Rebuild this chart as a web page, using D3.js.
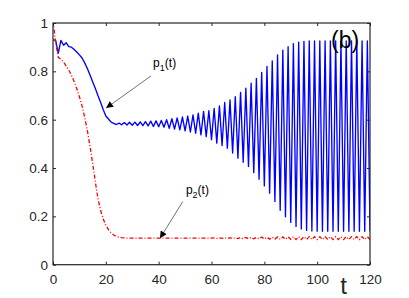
<!DOCTYPE html>
<html>
<head>
<meta charset="utf-8">
<script src="https://cdn.jsdelivr.net/npm/d3@7"></script>
<style>
  body { margin: 0; background: #fff; }
  svg { display: block; }
</style>
</head>
<body>
<div id="chart"></div>
<script>
const p1 = [
  0.930, 0.928, 0.875, 0.928, 0.908, 0.918, 0.902, 0.900, 0.890, 0.880,
  0.868, 0.855, 0.835, 0.812, 0.785, 0.757, 0.730, 0.700, 0.672, 0.642,
  0.615, 0.603, 0.590, 0.585, 0.580, 0.586, 0.579, 0.588, 0.578, 0.589,
  0.577, 0.590, 0.576, 0.591, 0.575, 0.592, 0.574, 0.594, 0.572, 0.595,
  0.571, 0.597, 0.569, 0.600, 0.564, 0.604, 0.561, 0.607, 0.558, 0.611,
  0.554, 0.615, 0.549, 0.620, 0.544, 0.627, 0.537, 0.634, 0.530, 0.637,
  0.517, 0.647, 0.503, 0.657, 0.493, 0.671, 0.482, 0.682, 0.462, 0.695,
  0.441, 0.713, 0.424, 0.730, 0.406, 0.751, 0.381, 0.771, 0.354, 0.795,
  0.326, 0.820, 0.296, 0.843, 0.262, 0.868, 0.225, 0.888, 0.198, 0.902,
  0.175, 0.914, 0.158, 0.921, 0.148, 0.924, 0.142, 0.926, 0.139, 0.926,
  0.138, 0.926, 0.138, 0.926, 0.138, 0.926, 0.138, 0.926, 0.138, 0.926,
  0.138, 0.926, 0.138, 0.926, 0.138, 0.926, 0.138, 0.926, 0.138, 0.926,
  0.138
];
const p2 = [
  1.010, 0.920, 0.858, 0.850, 0.838, 0.822, 0.805, 0.783, 0.758, 0.728,
  0.695, 0.657, 0.610, 0.555, 0.490, 0.420, 0.345, 0.275, 0.225, 0.190,
  0.163, 0.145, 0.132, 0.123, 0.117, 0.114, 0.112, 0.111, 0.110, 0.110,
  0.110, 0.110, 0.110, 0.110, 0.110, 0.110, 0.110, 0.110, 0.110, 0.110,
  0.110, 0.110, 0.110, 0.110, 0.110, 0.110, 0.110, 0.110, 0.110, 0.110,
  0.110, 0.110, 0.110, 0.110, 0.110, 0.110, 0.110, 0.110, 0.110, 0.110,
  0.110, 0.111, 0.109, 0.111, 0.109, 0.112, 0.108, 0.112, 0.108, 0.112,
  0.108, 0.113, 0.107, 0.113, 0.107, 0.113, 0.107, 0.113, 0.107, 0.114,
  0.106, 0.114, 0.106, 0.114, 0.106, 0.115, 0.105, 0.115, 0.105, 0.115,
  0.105, 0.116, 0.104, 0.116, 0.104, 0.116, 0.104, 0.116, 0.104, 0.116,
  0.104, 0.116, 0.104, 0.116, 0.104, 0.116, 0.104, 0.116, 0.104, 0.116,
  0.104, 0.116, 0.104, 0.116, 0.104, 0.116, 0.104, 0.116, 0.104, 0.116,
  0.104
];
const xTicks = [0, 20, 40, 60, 80, 100, 120];
const yTicks = [0, 0.2, 0.4, 0.6, 0.8, 1];

const width = 409, height = 298;
const margin = {top: 23, right: 39, bottom: 33.3, left: 53};
const axisColor = "#262626";
const font = "'Liberation Sans', Arial, Helvetica, sans-serif";

const svg = d3.select("#chart").append("svg")
  .attr("width", width)
  .attr("height", height)
  .style("font-family", font);

const x = d3.scaleLinear().domain([0, 120]).range([margin.left, width - margin.right]);
const y = d3.scaleLinear().domain([0, 1]).range([height - margin.bottom, margin.top]);

svg.append("clipPath")
  .attr("id", "plot")
  .append("rect")
  .attr("x", x(0))
  .attr("y", y(1))
  .attr("width", x(120) - x(0))
  .attr("height", y(0) - y(1));

// Curves
const line = d3.line()
  .x((d, i) => x(i))
  .y(d => y(d));

const curves = svg.append("g").attr("clip-path", "url(#plot)");

curves.append("path")
  .datum(p1)
  .attr("fill", "none")
  .attr("stroke", "#0000ff")
  .attr("stroke-width", 1.35)
  .attr("stroke-linejoin", "round")
  .attr("d", line);

curves.append("path")
  .datum(p2)
  .attr("fill", "none")
  .attr("stroke", "#ff0000")
  .attr("stroke-width", 1.3)
  .attr("stroke-dasharray", "4,2,1,2")
  .attr("d", line);

// Axes (MATLAB style box, ticks inward)
function styleAxis(g) {
  g.select(".domain").remove();
  g.selectAll(".tick line").attr("stroke", axisColor).attr("stroke-width", 1);
  g.selectAll(".tick text").attr("fill", axisColor).style("font-size", "13.5px");
}

svg.append("g")
  .attr("transform", `translate(0,${y(0)})`)
  .call(d3.axisBottom(x).tickValues(xTicks).tickSize(-3).tickPadding(9.5))
  .call(styleAxis)
  .attr("font-family", font);

svg.append("g")
  .attr("transform", `translate(${x(0)},0)`)
  .call(d3.axisLeft(y).tickValues(yTicks).tickSize(-3).tickPadding(5).tickFormat(d => String(d)))
  .call(styleAxis)
  .attr("font-family", font);

svg.append("g")
  .attr("transform", `translate(0,${y(1)})`)
  .call(d3.axisTop(x).tickValues(xTicks).tickSize(-3).tickFormat(""))
  .call(styleAxis);

svg.append("g")
  .attr("transform", `translate(${x(120)},0)`)
  .call(d3.axisRight(y).tickValues(yTicks).tickSize(-3).tickFormat(""))
  .call(styleAxis);

svg.append("rect")
  .attr("x", x(0))
  .attr("y", y(1))
  .attr("width", x(120) - x(0))
  .attr("height", y(0) - y(1))
  .attr("fill", "none")
  .attr("stroke", axisColor)
  .attr("stroke-width", 1.2);

// Axis label
svg.append("text")
  .attr("x", 343.5)
  .attr("y", 294)
  .attr("text-anchor", "middle")
  .attr("fill", axisColor)
  .style("font-size", "24px")
  .text("t");

// Panel tag
svg.append("text")
  .attr("x", 331)
  .attr("y", 48)
  .attr("fill", "#000")
  .style("font-size", "23px")
  .text("(b)");

// Annotations
const defs = svg.append("defs");
defs.append("marker")
  .attr("id", "head")
  .attr("viewBox", "0 0 10 10")
  .attr("refX", 10)
  .attr("refY", 5)
  .attr("markerWidth", 9)
  .attr("markerHeight", 7)
  .attr("markerUnits", "userSpaceOnUse")
  .attr("orient", "auto")
  .append("path")
  .attr("d", "M0,0 L10,5 L0,10 Z")
  .attr("fill", "#000");

function label(g, name, sub) {
  const t = g.append("text")
    .attr("fill", "#000")
    .style("font-size", "12px");
  t.append("tspan").text(name);
  t.append("tspan").attr("dy", 4).style("font-size", "9px").text(sub);
  t.append("tspan").attr("dy", -4).text("(t)");
  return t;
}

const notes = [
  {sub: "1", tx: 37.9, ty: 0.818, from: [37.1, 0.781], to: [20.1, 0.648]},
  {sub: "2", tx: 50.3, ty: 0.2925, from: [49.1, 0.261], to: [40.5, 0.109]}
];

notes.forEach(n => {
  svg.append("line")
    .attr("x1", x(n.from[0]))
    .attr("y1", y(n.from[1]))
    .attr("x2", x(n.to[0]))
    .attr("y2", y(n.to[1]))
    .attr("stroke", "#333")
    .attr("stroke-width", 0.7)
    .attr("marker-end", "url(#head)");
  label(svg, "p", n.sub)
    .attr("x", x(n.tx))
    .attr("y", y(n.ty));
});
</script>
</body>
</html>
